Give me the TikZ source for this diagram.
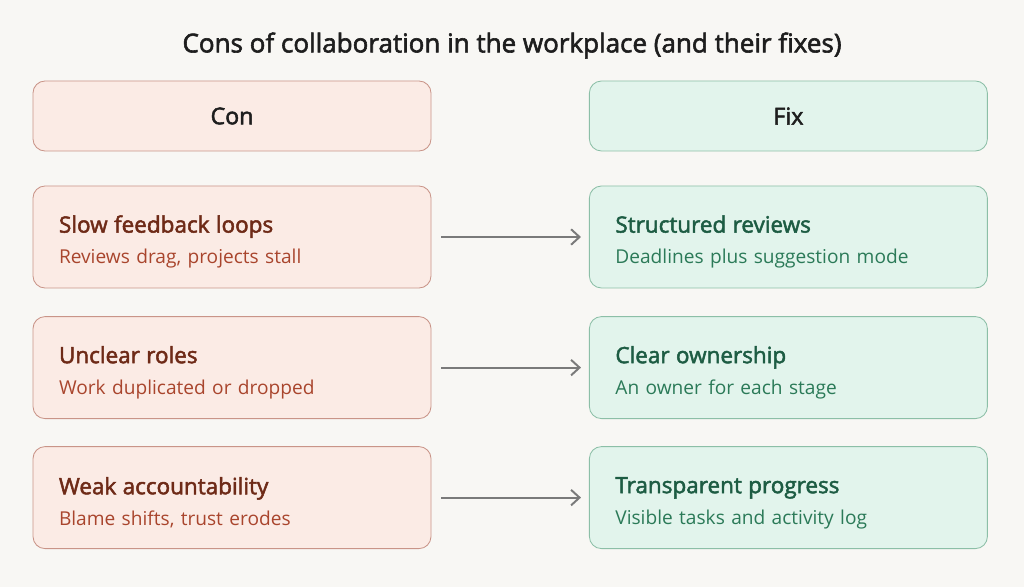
\documentclass[tikz,border=0pt]{standalone}
\usepackage{fontspec}
\setmainfont{Open Sans}
\newfontfamily\headfont{Open Sans}[FakeBold=2.2]
\usetikzlibrary{arrows.meta,positioning}
\definecolor{pagebg}{HTML}{F8F7F4}
\definecolor{confill}{HTML}{FBEBE5}
\definecolor{condraw}{HTML}{C99488}
\definecolor{conhead}{HTML}{6E2A17}
\definecolor{consub}{HTML}{A9452D}
\definecolor{fixfill}{HTML}{E2F4EC}
\definecolor{fixdraw}{HTML}{8CBFA7}
\definecolor{fixhead}{HTML}{1D5C43}
\definecolor{fixsub}{HTML}{2B7A58}
\definecolor{inkdark}{HTML}{1E1E1E}
\definecolor{arrowgray}{HTML}{7A7A7A}

\tikzset{
  box/.style={draw,rounded corners=0.3cm,line width=0.6pt,minimum width=9.95cm,
    text width=8.65cm,inner xsep=0.65cm,align=left,minimum height=2.55cm,
    font=\fontsize{13.6}{22}\selectfont},
  conbox/.style={box,fill=confill,draw=condraw},
  fixbox/.style={box,fill=fixfill,draw=fixdraw},
  headbox/.style={minimum height=1.75cm,align=center,text=inkdark,
    font=\headfont\fontsize{16.5}{18}\selectfont},
  flow/.style={-{Straight Barb[length=6pt,width=11pt]},draw=arrowgray,line width=1.4pt,
    shorten <=0.25cm,shorten >=0.2cm},
}
\newcommand{\conitem}[2]{{\color{conhead}\headfont\fontsize{16}{22}\selectfont\rule{0pt}{19pt}#1}\\{\color{consub}#2}}
\newcommand{\fixitem}[2]{{\color{fixhead}\headfont\fontsize{16}{22}\selectfont\rule{0pt}{19pt}#1}\\{\color{fixsub}#2}}

\begin{document}
\begin{tikzpicture}
  \useasboundingbox[fill=pagebg] (0,0) rectangle (25.6,-14.675);

  \node (title) at (12.8,-1.14) [text=inkdark,font=\headfont\fontsize{18.5}{20}\selectfont]
    {Cons of collaboration in the workplace (and their fixes)};

  % column heads
  \node (conhead) at (5.8,-2.9) [conbox,headbox] {Con};
  \node (fixhead) at (19.71,-2.9) [fixbox,headbox] {Fix};

  % rows
  \node (con1) at (5.8,-5.925) [conbox] {\conitem{Slow feedback loops}{Reviews drag, projects stall}};
  \node (fix1) at (19.71,-5.925) [fixbox] {\fixitem{Structured reviews}{Deadlines plus suggestion mode}};
  \node (con2) at (5.8,-9.19) [conbox] {\conitem{Unclear roles}{Work duplicated or dropped}};
  \node (fix2) at (19.71,-9.19) [fixbox] {\fixitem{Clear ownership}{An owner for each stage}};
  \node (con3) at (5.8,-12.44) [conbox] {\conitem{Weak accountability}{Blame shifts, trust erodes}};
  \node (fix3) at (19.71,-12.44) [fixbox] {\fixitem{Transparent progress}{Visible tasks and activity log}};

  \draw[flow] (con1) -- (fix1);
  \draw[flow] (con2) -- (fix2);
  \draw[flow] (con3) -- (fix3);
\end{tikzpicture}
\end{document}
